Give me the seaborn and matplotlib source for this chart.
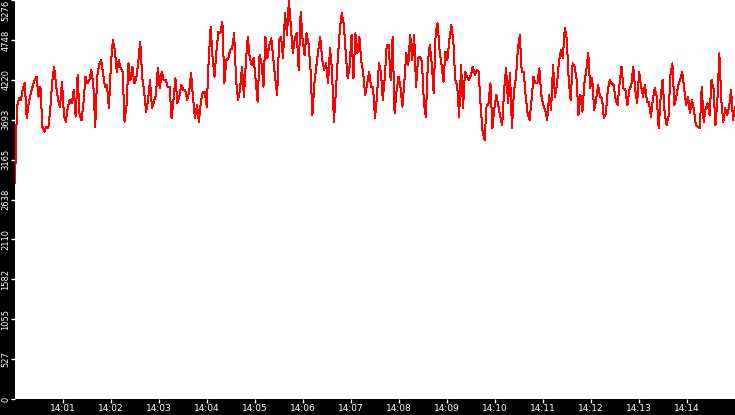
import numpy as np
import pandas as pd
import seaborn as sns
import matplotlib.pyplot as plt
import matplotlib.dates as mdates

# readings, split into chunks of roughly two minutes each
load_a = [2861, 3866, 3976, 3954, 4108, 4174, 3712, 3910, 4042, 4130, 4218, 4262, 3998, 4130, 3601, 3535,
          3601, 3579, 3822, 4196, 4395, 4152, 3954, 3866, 4196, 3756, 3667, 3866, 3954, 3910, 4086, 3734,
          4284, 3756, 3689, 3910, 4262, 4174, 4218, 4351, 4174, 3601, 4262, 4417, 4483, 4306, 4130]
load_b = [4152, 3844, 4417, 4747, 4615, 4329, 4483, 4373, 4329, 3667, 3888, 4439, 4218, 4395, 4174, 4240,
          4461, 4725, 4262, 4064, 3800, 3954, 4218, 3844, 3932, 4020, 4373, 4108, 4329, 4218, 4218, 4130,
          4130, 3712, 3954, 4240, 3910, 3998, 4152, 4086, 4086, 3954, 4064, 4306, 3976, 3712]
load_c = [3888, 3667, 3932, 4064, 4064, 3866, 4483, 4923, 4505, 4262, 4615, 4857, 4835, 4990, 4174, 4483,
          4505, 4615, 4637, 4835, 4218, 3954, 4086, 4395, 3998, 4461, 4791, 4505, 4417, 4505, 4218, 3932,
          4549, 4439, 4130, 4791, 4505, 4681, 4769, 4505, 4240, 4020, 4747, 4791, 4505, 5100]
load_d = [4813, 5270, 4923, 4571, 4769, 4835, 4351, 5122, 4747, 4549, 4835, 4703, 4373, 3756, 4174, 4395,
          4615, 4791, 4483, 4351, 4439, 4174, 4637, 4351, 3667, 4064, 4505, 4879, 5100, 4968, 4593, 4240,
          4395, 4813, 4240, 4835, 4571, 4791, 4461, 4306, 4020, 4174, 4329, 4130, 4130, 3712]
load_e = [3998, 4439, 4329, 3954, 4262, 4681, 4681, 4218, 4791, 3778, 4064, 4262, 4130, 3866, 4196, 4571,
          4417, 4813, 4483, 4813, 4130, 4505, 4527, 4461, 3910, 3734, 4439, 4681, 4439, 4042, 4835, 4968,
          4615, 4417, 4196, 4593, 4483, 4747, 4945, 4747, 4218, 4152, 3734, 4417, 3844, 4329]
load_f = [4262, 4218, 4284, 4395, 4284, 4351, 4329, 3866, 3535, 3425, 3866, 3910, 4174, 3579, 3844, 4020,
          3888, 3734, 3623, 4086, 4373, 3910, 4306, 3579, 4064, 4240, 4615, 4813, 4329, 4329, 3998, 3778,
          3689, 3954, 4262, 4174, 4174, 4373, 4020, 3888, 3822, 3689, 4020, 3822, 4417, 3998, 4152]
load_g = [4461, 4615, 4505, 4901, 4769, 4218, 3954, 4439, 4395, 4240, 3756, 4020, 3800, 4174, 4351, 4571,
          4108, 4240, 3822, 3954, 4152, 3998, 3976, 3712, 3778, 4086, 4218, 4174, 4152, 3954, 3888, 4174,
          4395, 4108, 4086, 3888, 4086, 4152, 4395, 4086, 3910, 4329, 4130, 3998, 4152, 3932]
load_h = [3932, 3734, 3954, 4108, 3998, 3579, 3998, 4218, 3800, 3623, 3734, 4284, 4439, 3888, 3998, 4152,
          4218, 4329, 4108, 3888, 3998, 3778, 3954, 3822, 3623, 3601, 3579, 4130, 3667, 3844, 3910, 3756,
          4218, 4108, 3623, 3954, 4571, 3954, 3667, 3844, 3756, 3866, 4086, 3689, 3866]

y_max = 5276
y_ticks = [y_max * i / 10 for i in range(11)]
start = pd.Timestamp('2020-01-01 14:00:00')
end = pd.Timestamp('2020-01-01 14:15:00')

values = load_a + load_b + load_c + load_d + load_e + load_f + load_g + load_h
df = pd.DataFrame({'time': pd.date_range(start, end, periods=len(values)), 'value': values})

fig = plt.figure(figsize=(7.35, 4.15), dpi=100, facecolor='black')
ax = fig.add_axes([15 / 735, 16 / 415, 720 / 735, 399 / 415])
ax.set_facecolor('white')

# thin hard-edged red trace, one pixel wide
sns.lineplot(data=df, x='time', y='value', color='red', linewidth=0.72, ax=ax,
             estimator=None, antialiased=False)

ax.set_xlim(start, end)
ax.set_ylim(0, y_max)
ax.set_xlabel('')
ax.set_ylabel('')
for s in ax.spines.values():
    s.set_visible(False)

# time axis
ax.xaxis.set_major_locator(mdates.MinuteLocator(byminute=range(1, 15)))
ax.xaxis.set_major_formatter(mdates.DateFormatter('%H:%M'))
ax.tick_params(axis='x', colors='white', labelsize=6.5, length=3, width=1, pad=0.5)

# value axis, labels turned on their side
ax.set_yticks(y_ticks)
ax.set_yticklabels([str(int(t)) for t in y_ticks], rotation=90, va='center')
ax.tick_params(axis='y', colors='white', labelsize=6, length=2.9, width=1, pad=0.5)
ax.get_yticklabels()[-1].set_va('top')

fig.savefig('out.png', dpi=100, facecolor='black')
